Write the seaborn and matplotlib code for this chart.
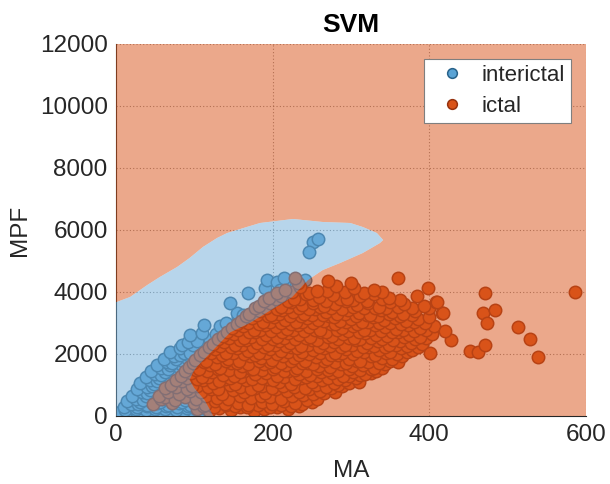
import numpy as np
import pandas as pd
import matplotlib
matplotlib.use("Agg")
import matplotlib.pyplot as plt
from matplotlib.path import Path
from matplotlib.patches import PathPatch
import seaborn as sns

# ---------------- data ----------------
interictal_ma = [
    8, 18, 30, 42, 55, 68, 80, 93, 105, 115,
    5, 15, 25, 36, 48, 60, 72, 86, 98, 110,
    12, 25, 38, 50, 63, 77, 90, 102, 112,
    10, 27, 39, 51, 64, 78, 92, 105, 115,
    19, 28, 40, 52, 66, 80, 95, 108,
    14, 31, 44, 56, 70, 84, 98, 112,
    26, 35, 48, 60, 75, 88, 100, 118,
    20, 38, 51, 64, 78, 92, 106, 120,
    33, 40, 55, 68, 82, 97, 112, 125,
    27, 43, 57, 70, 84, 98, 113, 127,
    39, 46, 60, 72, 86, 100, 115, 130,
    31, 49, 62, 75, 89, 103, 117,
    44, 52, 65, 78, 92, 106, 120,
    38, 55, 68, 82, 95, 109, 124,
    50, 58, 72, 85, 98, 112, 128,
    45, 62, 76, 89, 103, 117,
    57, 66, 80, 93, 108, 122,
    52, 69, 83, 97, 111, 128,
    65, 72, 86, 100, 115, 135,
    61, 77, 90, 104, 118,
    74, 82, 95, 110, 125,
    69, 87, 101, 115, 130,
    82, 94, 108, 122, 140,
    84, 98, 113, 128,
    92, 103, 120, 135,
    95, 110, 128, 150,
    112, 133, 160,
    140, 156, 175,
    154, 162, 190,
    146, 200,
    169, 212, 226,
    190, 193, 205, 209, 222, 241, 215, 230,
    252, 258, 247,
]
interictal_mpf = [
    60, 40, 80, 50, 70, 40, 90, 60, 50, 120,
    130, 110, 150, 120, 140, 110, 160, 130, 150, 170,
    200, 230, 180, 240, 210, 190, 250, 220, 260,
    300, 290, 320, 280, 310, 300, 330, 290, 320,
    380, 400, 360, 420, 370, 410, 350, 390,
    470, 450, 490, 460, 480, 450, 500, 470,
    560, 520, 590, 540, 580, 510, 570, 550,
    660, 640, 680, 650, 670, 640, 690, 660,
    760, 730, 790, 740, 770, 720, 780, 750,
    860, 840, 880, 850, 870, 840, 880, 860,
    950, 980, 920, 970, 940, 990, 930, 960,
    1050, 1030, 1070, 1040, 1060, 1030, 1070,
    1150, 1120, 1180, 1130, 1170, 1140, 1160,
    1250, 1230, 1270, 1240, 1260, 1230, 1270,
    1350, 1320, 1380, 1330, 1370, 1340, 1360,
    1450, 1430, 1470, 1440, 1460, 1430,
    1550, 1520, 1580, 1540, 1570, 1530,
    1650, 1630, 1670, 1640, 1660, 1630,
    1750, 1720, 1780, 1740, 1770, 1730,
    1850, 1830, 1870, 1840, 1860,
    1950, 1980, 1920, 1970, 1940,
    2060, 2040, 2080, 2050, 2070,
    2190, 2030, 2150, 2200, 2120,
    2280, 2300, 2260, 2310,
    2400, 2430, 2450, 2380,
    2610, 2680, 2650, 2620,
    2930, 2900, 2880,
    3000, 3150, 3120,
    3320, 3260, 3500,
    3645, 3740,
    3970, 4060, 4000,
    4130, 4390, 4320, 4070, 4290, 4390, 4450, 4200,
    5600, 5700, 5300,
]

ictal_ma = [
    104, 119, 131, 147, 158, 176, 189, 206, 219, 233,
    111, 125, 140, 152, 167, 181, 196, 210, 224, 238, 250,
    47, 58, 71, 99, 113, 126, 139, 156, 168, 186, 199, 214, 229, 244, 257,
    62, 75, 88, 102, 115, 129, 143, 158, 172, 185, 197, 211, 225, 239, 252, 266, 279,
    55, 67, 81, 94, 108, 121, 135, 149, 163, 177, 190, 204, 218, 233, 246, 260, 274, 289,
    62, 76, 90, 103, 117, 130, 145, 158, 172, 186, 199, 213, 227, 241, 255, 268, 283, 297, 310,
    70, 84, 97, 111, 124, 139, 152, 166, 181, 194, 208, 223, 236, 250, 263, 278, 292, 306,
    77, 90, 104, 117, 131, 145, 159, 173, 187, 200, 214, 228, 242, 256, 270, 284, 298, 312, 325,
    83, 96, 110, 123, 137, 151, 164, 178, 192, 206, 220, 234, 248, 262, 276, 290, 303, 318, 332,
    88, 102, 116, 130, 144, 158, 172, 186, 200, 214, 228, 242, 256, 270, 284, 298, 312, 326, 340,
    93, 106, 120, 133, 147, 161, 175, 189, 203, 217, 231, 245, 259, 273, 287, 301, 315, 329, 344,
    98, 112, 126, 140, 154, 168, 182, 196, 210, 224, 238, 252, 266, 280, 294, 308, 322, 336, 350, 360,
    101, 115, 129, 143, 157, 171, 185, 199, 213, 227, 241, 255, 269, 283, 297, 311, 325, 339, 352, 365,
    107, 121, 135, 149, 163, 177, 191, 205, 219, 233, 247, 261, 275, 289, 303, 317, 331, 345, 359, 372,
    112, 126, 140, 154, 168, 182, 196, 210, 224, 238, 252, 266, 280, 294, 308, 322, 336, 350, 364, 378,
    119, 133, 147, 161, 175, 189, 203, 217, 231, 245, 259, 273, 287, 301, 315, 329, 343, 357, 371, 385,
    124, 138, 152, 166, 180, 194, 208, 222, 236, 250, 264, 278, 292, 306, 320, 334, 348, 362, 376, 390,
    130, 144, 158, 172, 186, 200, 214, 228, 242, 256, 270, 284, 298, 312, 326, 340, 354, 368, 382, 396,
    136, 150, 164, 178, 192, 206, 220, 234, 248, 262, 276, 290, 304, 318, 332, 346, 360, 374, 388, 403,
    142, 156, 170, 184, 198, 212, 226, 240, 254, 268, 282, 296, 310, 324, 338, 352, 366, 380, 396,
    148, 162, 176, 190, 204, 218, 232, 246, 260, 274, 288, 302, 316, 330, 344, 358, 373, 388, 406,
    154, 168, 182, 196, 210, 224, 238, 252, 266, 280, 294, 308, 322, 336, 350, 364, 380, 395,
    160, 174, 188, 202, 216, 230, 244, 258, 272, 286, 300, 314, 328, 342, 356, 370, 386, 400,
    166, 180, 194, 208, 222, 236, 250, 264, 278, 292, 306, 320, 334, 348, 362, 378,
    170, 184, 198, 212, 226, 240, 254, 268, 282, 296, 310, 324, 338, 352, 366, 382, 416,
    177, 191, 205, 219, 233, 247, 261, 275, 289, 303, 317, 331, 345, 360, 378, 400,
    182, 196, 210, 224, 238, 252, 266, 280, 294, 308, 322, 336, 350, 368, 393, 409,
    189, 204, 219, 235, 251, 268, 286, 303, 320, 340, 362,
    195, 211, 227, 243, 259, 277, 295, 311, 329, 349, 384,
    206, 225, 246, 269, 292, 316, 340,
    216, 235, 257, 281, 304, 329, 398,
    232, 271, 300, 229, 360,
    401, 418, 410, 586, 471, 469, 484, 473, 513, 529, 539, 452, 462, 471, 403, 428, 420,
]
ictal_mpf = [
    210, 160, 260, 190, 300, 170, 240, 280, 220, 330,
    330, 290, 360, 310, 280, 340, 300, 370, 320, 400, 450,
    380, 560, 430, 420, 350, 470, 390, 430, 360, 450, 400, 480, 420, 520, 560,
    600, 520, 610, 560, 650, 590, 540, 630, 580, 660, 600, 550, 640, 690, 700, 730, 760,
    640, 780, 700, 820, 760, 870, 720, 840, 780, 900, 740, 860, 800, 760, 880, 820, 900, 960,
    900, 950, 880, 970, 920, 860, 990, 930, 880, 960, 910, 980, 940, 900, 990, 950, 1010, 1060, 1100,
    1010, 1120, 980, 1160, 1060, 1200, 1040, 1150, 990, 1180, 1090, 1030, 1210, 1100, 1170, 1050, 1150, 1230,
    1150, 1230, 1180, 1250, 1140, 1220, 1270, 1200, 1240, 1160, 1260, 1190, 1250, 1290, 1230, 1200, 1280, 1320, 1380,
    1300, 1390, 1260, 1430, 1330, 1280, 1450, 1350, 1400, 1290, 1440, 1360, 1310, 1420, 1380, 1290, 1430, 1350, 1460,
    1460, 1500, 1440, 1520, 1480, 1430, 1510, 1470, 1530, 1450, 1500, 1460, 1520, 1480, 1440, 1510, 1490, 1530, 1550,
    1580, 1520, 1660, 1560, 1700, 1610, 1530, 1680, 1590, 1650, 1540, 1720, 1610, 1570, 1690, 1600, 1660, 1560, 1690,
    1700, 1740, 1680, 1760, 1720, 1690, 1770, 1730, 1700, 1780, 1720, 1690, 1760, 1730, 1710, 1770, 1740, 1700, 1760, 1730,
    1820, 1780, 1900, 1840, 1760, 1930, 1860, 1800, 1950, 1870, 1790, 1910, 1830, 1960, 1850, 1780, 1920, 1880, 1830, 1940,
    1980, 2020, 1960, 2040, 2000, 1970, 2030, 1990, 2050, 1960, 2010, 2040, 1980, 2030, 1990, 2050, 1970, 2020, 2000, 2050,
    2080, 2150, 2020, 2190, 2100, 2040, 2170, 2110, 2220, 2060, 2140, 2200, 2030, 2160, 2090, 2210, 2120, 2050, 2180, 2120,
    2230, 2270, 2210, 2290, 2240, 2220, 2280, 2250, 2200, 2300, 2230, 2260, 2220, 2290, 2240, 2270, 2210, 2300, 2250, 2230,
    2330, 2400, 2280, 2440, 2360, 2300, 2420, 2370, 2260, 2450, 2340, 2390, 2300, 2460, 2350, 2410, 2290, 2430, 2360, 2310,
    2480, 2520, 2460, 2540, 2500, 2470, 2530, 2490, 2510, 2460, 2540, 2480, 2520, 2470, 2530, 2500, 2460, 2540, 2490, 2520,
    2580, 2650, 2520, 2700, 2600, 2540, 2680, 2620, 2560, 2710, 2590, 2650, 2530, 2690, 2610, 2570, 2700, 2620, 2550, 2660,
    2720, 2770, 2700, 2790, 2740, 2710, 2780, 2730, 2760, 2700, 2790, 2740, 2720, 2780, 2750, 2710, 2790, 2730, 2770,
    2830, 2900, 2780, 2950, 2860, 2800, 2930, 2870, 2760, 2960, 2840, 2910, 2790, 2940, 2880, 2810, 2950, 2850, 2900,
    2980, 3010, 2960, 3040, 2990, 2970, 3030, 3000, 3050, 2960, 3020, 2980, 3040, 2990, 3010, 2970, 3030, 3000,
    3080, 3150, 3040, 3190, 3100, 3020, 3170, 3110, 3210, 3060, 3140, 3030, 3180, 3090, 3160, 3050, 3120, 3190,
    3230, 3260, 3210, 3280, 3240, 3220, 3270, 3250, 3200, 3290, 3230, 3260, 3210, 3280, 3240, 3250,
    3300, 3380, 3260, 3420, 3340, 3280, 3440, 3360, 3300, 3410, 3330, 3270, 3430, 3350, 3290, 3400, 3320,
    3470, 3500, 3460, 3520, 3480, 3450, 3510, 3490, 3460, 3530, 3480, 3500, 3470, 3510, 3490, 3470,
    3560, 3640, 3520, 3690, 3580, 3660, 3540, 3620, 3700, 3570, 3650, 3530, 3680, 3600, 3560, 3680,
    3720, 3760, 3700, 3770, 3730, 3710, 3760, 3740, 3720, 3770, 3730,
    3800, 3870, 3780, 3920, 3840, 3900, 3790, 3880, 3950, 3820, 3860,
    3960, 4000, 3970, 4020, 3990, 3970, 4010,
    4080, 4150, 4030, 4180, 4120, 4060, 4130,
    4300, 4355, 4280, 4450, 4450,
    2032, 3323, 3677, 4000, 3968, 3323, 3419, 3000, 2871, 2484, 1903, 2097, 2065, 2290, 10160, 2450, 2750,
]

# SVM decision boundary of the "interictal" region
region_ma = [0, 0, 1, 18, 40, 56, 78, 94, 111, 129, 142, 167, 184, 226, 264, 299, 315,
             333, 341, 337, 315, 286, 264, 245, 225, 171, 146, 103, 98, 94, 100, 113, 120, 124]
region_mpf = [0, 3677, 3677, 3839, 4226, 4484, 4806, 5097, 5452, 5742, 5903, 6097, 6226,
              6355, 6258, 6226, 6097, 5903, 5677, 5581, 5258, 4935, 4710, 4387, 3840, 3000,
              2700, 1580, 1390, 1160, 900, 520, 200, 0]

class_labels = ["interictal", "ictal"]
x_ticks = [0, 200, 400, 600]
y_ticks = [0, 2000, 4000, 6000, 8000, 10000, 12000]

# ---------------- styling ----------------
sns.set_style("white")
plt.rcParams["font.family"] = ["Liberation Sans", "DejaVu Sans"]
TXT = "#262626"
ORANGE = (217/255, 83/255, 25/255)
BLUE_REG = (113/255, 173/255, 217/255)
BLUE_PT = (90/255, 163/255, 213/255)
BLUE_EDGE = (40/255, 98/255, 138/255)
ORANGE_EDGE = (150/255, 50/255, 15/255)

fig = plt.figure(figsize=(6.10, 4.84), dpi=100)
ax = fig.add_axes([116/610, 68/484, 470/610, 372/484])

df_i = pd.DataFrame({"MA": interictal_ma, "MPF": interictal_mpf})
df_s = pd.DataFrame({"MA": ictal_ma, "MPF": ictal_mpf})

sns.scatterplot(data=df_i, x="MA", y="MPF", ax=ax, color=BLUE_PT, edgecolor=BLUE_EDGE,
                linewidth=1.1, s=80, zorder=2, legend=False)
sns.scatterplot(data=df_s, x="MA", y="MPF", ax=ax, color=ORANGE, edgecolor=ORANGE_EDGE,
                linewidth=1.1, s=80, zorder=2, legend=False)

ax.set_xlim(0, 600)
ax.set_ylim(0, 12000)

# decision regions (semi-transparent overlay)
poly = list(zip(region_ma, region_mpf))
outer = [(0, 0), (600, 0), (600, 12000), (0, 12000), (0, 0)]
inner = poly + [poly[0]]
verts = outer + inner
codes = ([Path.MOVETO] + [Path.LINETO] * 3 + [Path.CLOSEPOLY] +
         [Path.MOVETO] + [Path.LINETO] * (len(inner) - 2) + [Path.CLOSEPOLY])
ax.add_patch(PathPatch(Path(verts, codes), facecolor=ORANGE, edgecolor="none",
                       alpha=0.5, zorder=3))
ax.fill(region_ma, region_mpf, facecolor=BLUE_REG, edgecolor="none", alpha=0.5, zorder=3)

# axes cosmetics
ax.set_xticks(x_ticks)
ax.set_yticks(y_ticks)
ax.set_xticklabels([str(v) for v in x_ticks])
ax.set_yticklabels([str(v) for v in y_ticks])
ax.tick_params(direction="in", length=4, width=0.8, colors=TXT, labelsize=17.5, pad=6)
ax.grid(True, linestyle=(0, (1, 2)), color="#404040", linewidth=0.8, alpha=0.6)
ax.set_axisbelow(True)
for s in ["top", "right"]:
    ax.spines[s].set_visible(False)
for s in ["left", "bottom"]:
    ax.spines[s].set_color(TXT)
    ax.spines[s].set_linewidth(0.8)

ax.set_xlabel("MA", fontsize=17.5, color=TXT, labelpad=10)
ax.set_ylabel("MPF", fontsize=17.5, color=TXT, labelpad=6)
ax.set_title("SVM", fontsize=19, fontweight="bold", color="black", pad=9)

handles = [
    plt.Line2D([], [], marker="o", linestyle="none", markerfacecolor=BLUE_PT,
               markeredgecolor=BLUE_EDGE, markersize=7, markeredgewidth=1.1),
    plt.Line2D([], [], marker="o", linestyle="none", markerfacecolor=ORANGE,
               markeredgecolor=ORANGE_EDGE, markersize=7, markeredgewidth=1.1),
]
leg = ax.legend(handles, class_labels, loc="upper right", fontsize=16, frameon=True,
                fancybox=False, framealpha=1, edgecolor="#7f7f7f",
                borderaxespad=0.68, handletextpad=0.32, borderpad=0.26, labelspacing=0.45,
                handlelength=2.0)
leg.get_frame().set_linewidth(0.8)
leg.set_zorder(10)
for t in leg.get_texts():
    t.set_color(TXT)

fig.savefig("out.png", dpi=100)
